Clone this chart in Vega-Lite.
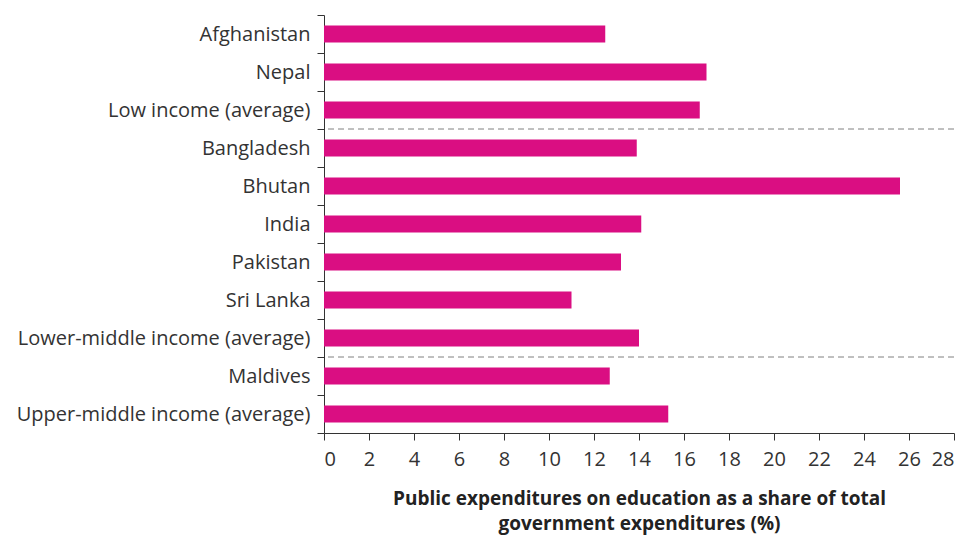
{
  "$schema": "https://vega.github.io/schema/vega-lite/v6.json",
  "width": 630,
  "height": 418,
  "autosize": "none",
  "padding": {"left": 324, "top": 15, "right": 12, "bottom": 103},
  "background": "white",
  "config": {
    "view": {"stroke": null},
    "font": "Open Sans"
  },
  "datasets": {
    "bars": [
      {"country": "Afghanistan", "value": 12.5},
      {"country": "Nepal", "value": 17.0},
      {"country": "Low income (average)", "value": 16.7},
      {"country": "Bangladesh", "value": 13.9},
      {"country": "Bhutan", "value": 25.6},
      {"country": "India", "value": 14.1},
      {"country": "Pakistan", "value": 13.2},
      {"country": "Sri Lanka", "value": 11.0},
      {"country": "Lower-middle income (average)", "value": 14.0},
      {"country": "Maldives", "value": 12.7},
      {"country": "Upper-middle income (average)", "value": 15.3}
    ],
    "separators": [
      {"country": "Bangladesh"},
      {"country": "Maldives"}
    ]
  },
  "layer": [
    {
      "data": {"name": "bars"},
      "mark": {"type": "bar", "color": "#DA0E82", "height": {"band": 0.45}},
      "encoding": {
        "y": {
          "field": "country",
          "type": "nominal",
          "sort": ["Afghanistan", "Nepal", "Low income (average)", "Bangladesh", "Bhutan", "India", "Pakistan", "Sri Lanka", "Lower-middle income (average)", "Maldives", "Upper-middle income (average)"],
          "scale": {"paddingInner": 0, "paddingOuter": 0},
          "axis": {
            "title": null,
            "tickBand": "extent",
            "tickSize": 7,
            "tickColor": "#333333",
            "domainColor": "#333333",
            "labelFontSize": 20,
            "labelColor": "#333333",
            "labelPadding": 7,
            "labelLimit": 400,
            "labelFont": "Open Sans"
          }
        },
        "x": {
          "field": "value",
          "type": "quantitative",
          "scale": {"domain": [0, 28], "nice": false},
          "axis": {
            "values": [0, 2, 4, 6, 8, 10, 12, 14, 16, 18, 20, 22, 24, 26, 28],
            "grid": false,
            "tickSize": 7,
            "tickColor": "#333333",
            "domainColor": "#333333",
            "labelFontSize": 20,
            "labelColor": "#333333",
            "labelPadding": 9,
            "labelFont": "Open Sans",
            "title": ["Public expenditures on education as a share of total", "government expenditures (%)"],
            "titleFontSize": 19,
            "titleFontWeight": "bold",
            "titleColor": "#222222",
            "titleLineHeight": 25,
            "titlePadding": 20,
            "titleFont": "Open Sans"
          }
        }
      }
    },
    {
      "data": {"name": "separators"},
      "mark": {"type": "rule", "color": "#808080", "strokeDash": [6, 4], "strokeWidth": 1},
      "encoding": {
        "y": {
          "field": "country",
          "type": "nominal",
          "bandPosition": 0,
          "sort": ["Afghanistan", "Nepal", "Low income (average)", "Bangladesh", "Bhutan", "India", "Pakistan", "Sri Lanka", "Lower-middle income (average)", "Maldives", "Upper-middle income (average)"]
        }
      }
    }
  ]
}
